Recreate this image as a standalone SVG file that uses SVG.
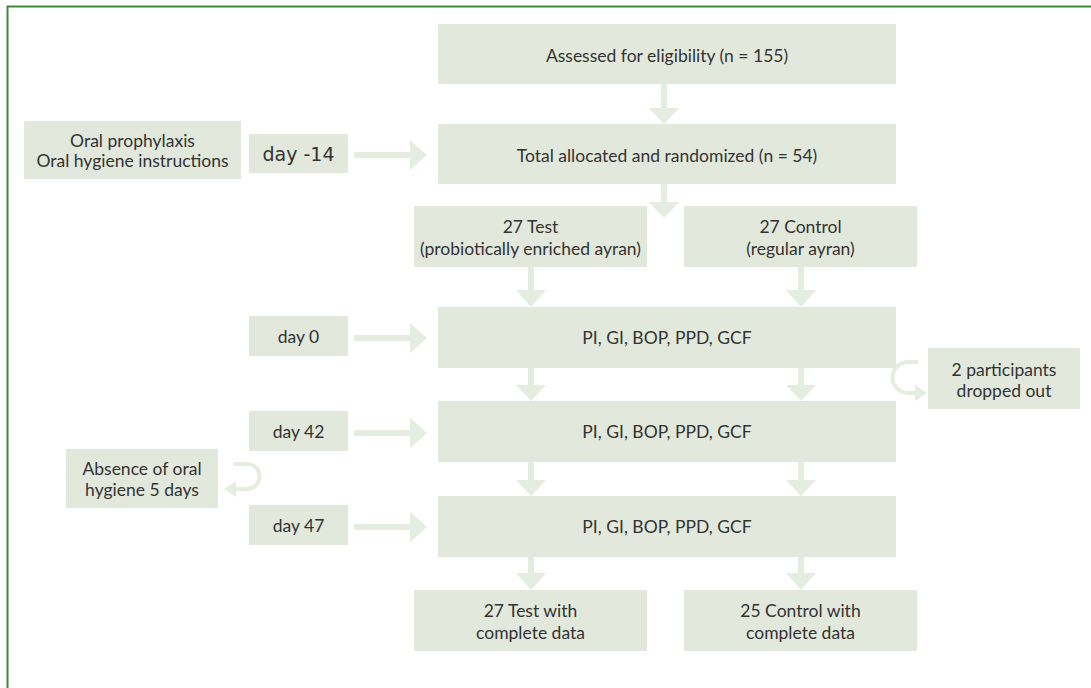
<svg xmlns="http://www.w3.org/2000/svg" width="1091" height="688" viewBox="0 0 1091 688">
<style>
.box{fill:#e2e9dc}
.arr{fill:#e5ece0}
.stk{fill:none;stroke:#e5ece0;stroke-width:4}
text{font-family:Lato,"Liberation Sans",sans-serif;font-size:17.5px;fill:#333333;text-anchor:middle}
.day{font-family:"DejaVu Sans",sans-serif;font-size:19px}
</style>
<rect width="1091" height="688" fill="#ffffff"/>
<path d="M7.5 688 V6.5 H1091" fill="none" stroke="#3c8a32" stroke-width="2"/>
<g id="connectors">
<path class="arr" d="M661 84 H667 V108 H679 L664 124 L649 108 H661 Z"/>
<path class="arr" d="M661 184 H667 V202 H679 L664 218 L649 202 H661 Z"/>
<path class="arr" d="M528 267 H534 V290 H546 L531 307 L516 290 H528 Z"/>
<path class="arr" d="M798 267 H804 V290 H816 L801 307 L786 290 H798 Z"/>
<path class="arr" d="M528 368 H534 V385 H546 L531 401 L516 385 H528 Z"/>
<path class="arr" d="M798 368 H804 V385 H816 L801 401 L786 385 H798 Z"/>
<path class="arr" d="M528 462 H534 V480 H546 L531 496 L516 480 H528 Z"/>
<path class="arr" d="M798 462 H804 V480 H816 L801 496 L786 480 H798 Z"/>
<path class="arr" d="M528 557 H534 V573 H546 L531 590 L516 573 H528 Z"/>
<path class="arr" d="M798 557 H804 V573 H816 L801 590 L786 573 H798 Z"/>
<path class="arr" d="M354 152 H410 V140 L427 155 L410 170 V158 H354 Z"/>
<path class="arr" d="M354 335 H410 V323 L427 338 L410 353 V341 H354 Z"/>
<path class="arr" d="M354 430 H410 V418 L427 433 L410 448 V436 H354 Z"/>
<path class="arr" d="M354 524 H410 V512 L427 527 L410 542 V530 H354 Z"/>
<path class="stk" d="M918 362 H908 A15.5 15.5 0 0 0 908 393 H916"/>
<path class="arr" d="M915 385 L927 393 L915 401 Z"/>
<path class="stk" d="M233 464 H247 A12.5 12.5 0 0 1 247 489 H235"/>
<path class="arr" d="M236 481 L224 489 L236 497 Z"/>
</g>
<g id="assessed"><rect class="box" x="438" y="24" width="458" height="60"/><text x="667" y="62">Assessed for eligibility (n = 155)</text></g>
<g id="allocated"><rect class="box" x="438" y="124" width="458" height="60"/><text x="667" y="162">Total allocated and randomized (n = 54)</text></g>
<g id="prophylaxis"><rect class="box" x="24" y="121" width="217" height="58"/><text x="132.5" y="147">Oral prophylaxis</text><text x="132.5" y="167">Oral hygiene instructions</text></g>
<g id="day-14"><rect class="box" x="249" y="134" width="99" height="39"/><text class="day" x="298.5" y="161">day -14</text></g>
<g id="test"><rect class="box" x="414" y="206" width="233" height="61"/><text x="530.5" y="233">27 Test</text><text x="530.5" y="255">(probiotically enriched ayran)</text></g>
<g id="control"><rect class="box" x="684" y="206" width="233" height="61"/><text x="800.5" y="233">27 Control</text><text x="800.5" y="255">(regular ayran)</text></g>
<g id="day0"><rect class="box" x="249" y="316" width="99" height="40"/><text x="298.5" y="342.5">day 0</text></g>
<g id="measure1"><rect class="box" x="438" y="307" width="458" height="61"/><text x="667" y="344">PI, GI, BOP, PPD, GCF</text></g>
<g id="dropout"><rect class="box" x="928" y="348" width="152" height="61"/><text x="1004" y="376">2 participants</text><text x="1004" y="397">dropped out</text></g>
<g id="day42"><rect class="box" x="249" y="411" width="99" height="40"/><text x="298.5" y="437.5">day 42</text></g>
<g id="measure2"><rect class="box" x="438" y="401" width="458" height="61"/><text x="667" y="438">PI, GI, BOP, PPD, GCF</text></g>
<g id="absence"><rect class="box" x="66" y="449" width="152" height="59"/><text x="142" y="475">Absence of oral</text><text x="142" y="496">hygiene 5 days</text></g>
<g id="day47"><rect class="box" x="249" y="505" width="99" height="40"/><text x="298.5" y="531.5">day 47</text></g>
<g id="measure3"><rect class="box" x="438" y="496" width="458" height="61"/><text x="667" y="533">PI, GI, BOP, PPD, GCF</text></g>
<g id="final-test"><rect class="box" x="414" y="590" width="233" height="61"/><text x="530.5" y="617">27 Test with</text><text x="530.5" y="639">complete data</text></g>
<g id="final-control"><rect class="box" x="684" y="590" width="233" height="61"/><text x="800.5" y="617">25 Control with</text><text x="800.5" y="639">complete data</text></g>
</svg>
